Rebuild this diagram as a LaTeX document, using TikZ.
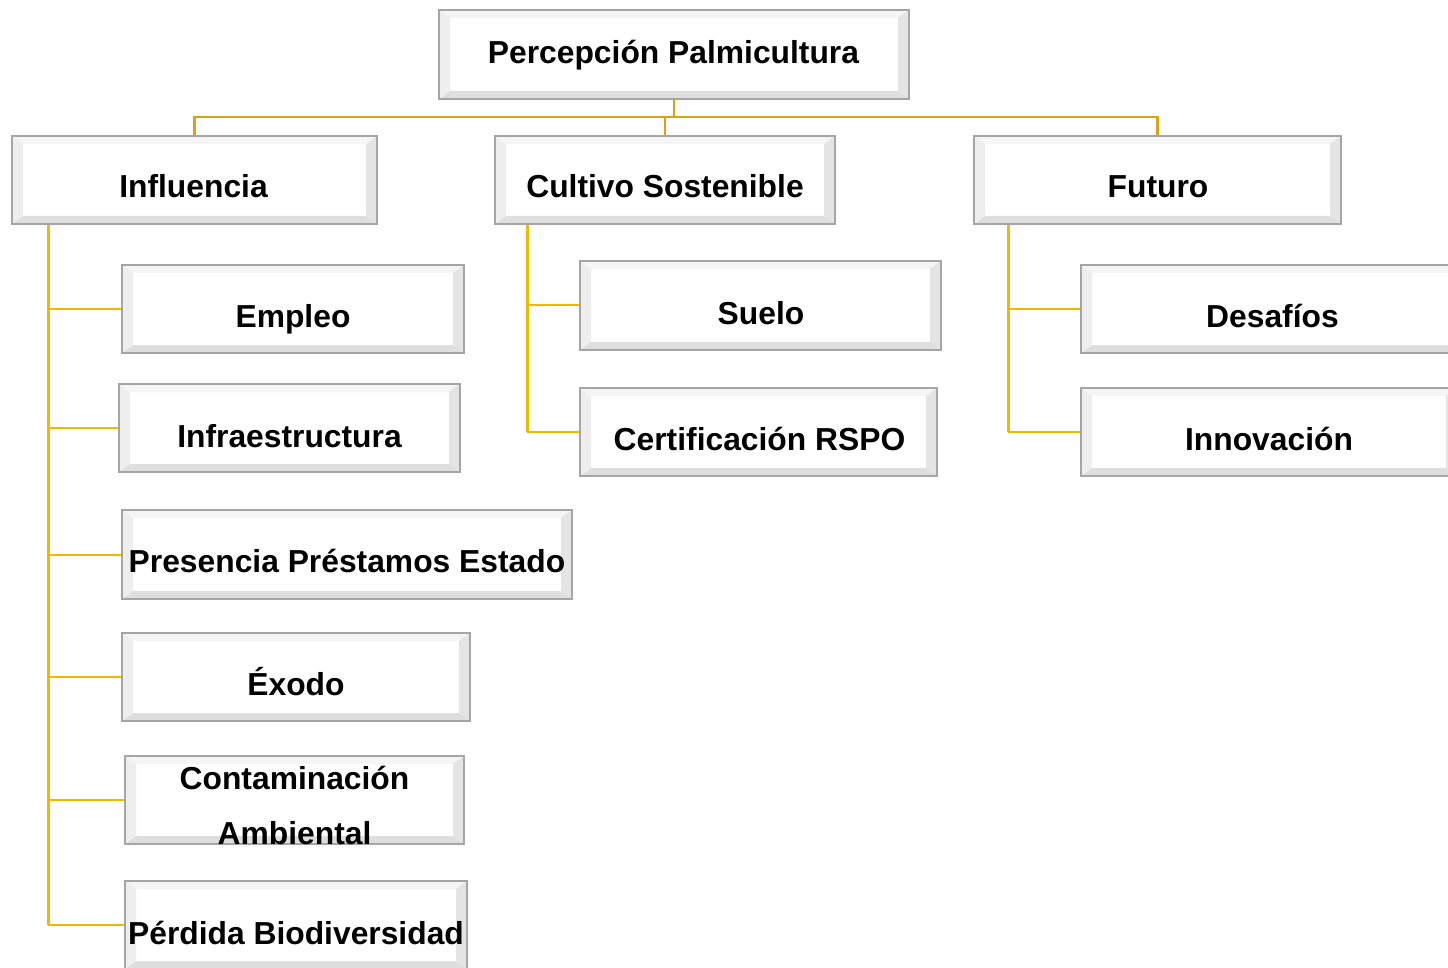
\documentclass[tikz,border=0pt]{standalone}
\usepackage{fontspec}
\setmainfont{Liberation Sans}
\definecolor{topline}{RGB}{214,164,22}
\definecolor{branch}{RGB}{242,184,0}
\definecolor{bordergray}{RGB}{165,165,165}
\def\pb{path picture bounding box}
\tikzset{
  bev/.style={draw=bordergray, line width=1.2pt, fill=white, inner sep=0pt,
    path picture={
      \fill[gray!8] (\pb.north west) -- (\pb.north east) -- ([xshift=-11pt,yshift=-8pt]\pb.north east) -- ([xshift=11pt,yshift=-8pt]\pb.north west) -- cycle;
      \fill[gray!26] (\pb.south west) -- (\pb.south east) -- ([xshift=-11pt,yshift=8pt]\pb.south east) -- ([xshift=11pt,yshift=8pt]\pb.south west) -- cycle;
      \fill[gray!13] (\pb.north west) -- ([xshift=11pt,yshift=-8pt]\pb.north west) -- ([xshift=11pt,yshift=8pt]\pb.south west) -- (\pb.south west) -- cycle;
      \fill[gray!21] (\pb.north east) -- ([xshift=-11pt,yshift=-8pt]\pb.north east) -- ([xshift=-11pt,yshift=8pt]\pb.south east) -- (\pb.south east) -- cycle;
    }},
  lbl/.style={anchor=base, font=\fontsize{31.8}{55}\selectfont\bfseries, inner sep=0pt, align=center},
  topc/.style={draw=topline, line width=2.8pt},
  brv/.style={draw=branch, line width=3pt},
  brh/.style={draw=branch, line width=2pt},
}
\begin{document}
\begin{tikzpicture}[x=1pt,y=-1pt]
\useasboundingbox (0,0) rectangle (1448,968);
\clip (0,0) rectangle (1448,968);

\coordinate (hub) at (674,117);

% boxes
\node[bev, minimum width=470pt, minimum height=89pt] (root) at (674,54.5) {};
\node[bev, minimum width=365pt, minimum height=88pt] (infl) at (194.5,180) {};
\node[bev, minimum width=340pt, minimum height=88pt] (cult) at (665,180) {};
\node[bev, minimum width=367pt, minimum height=88pt] (fut) at (1157.5,180) {};

\node[bev, minimum width=342pt, minimum height=88pt] (emp) at (293,309) {};
\node[bev, minimum width=341pt, minimum height=88pt] (infra) at (289.5,428) {};
\node[bev, minimum width=450pt, minimum height=89pt] (pres) at (347,554.5) {};
\node[bev, minimum width=348pt, minimum height=88pt] (exo) at (296,677) {};
\node[bev, minimum width=339pt, minimum height=88pt] (cont) at (294.5,800) {};
\node[bev, minimum width=342pt, minimum height=88pt] (perd) at (296,925) {};

\node[bev, minimum width=361pt, minimum height=89pt] (suelo) at (760.5,305.5) {};
\node[bev, minimum width=357pt, minimum height=88pt] (cert) at (758.5,432) {};

\node[bev, minimum width=383pt, minimum height=88pt] (desa) at (1272.5,309) {};
\node[bev, minimum width=376pt, minimum height=88pt] (inno) at (1269,432) {};

% top-level connectors
\draw[topc] (root.south) -- (hub);
\draw[topc] (infl.north) |- (fut.north |- hub) -- (fut.north);
\draw[topc] (hub -| cult.north) -- (cult.north);

% Influencia branch
\coordinate (ispine) at ([xshift=37pt]infl.south west);
\draw[brv] (ispine) -- (ispine |- perd.west);
\foreach \n in {emp,infra,pres,exo,cont,perd}
  \draw[brh] (ispine |- \n.west) -- (\n.west);

% Cultivo branch
\coordinate (cspine) at ([xshift=33pt]cult.south west);
\draw[brv] (cspine) -- (cspine |- cert.west);
\foreach \n in {suelo,cert}
  \draw[brh] (cspine |- \n.west) -- (\n.west);

% Futuro branch
\coordinate (fspine) at ([xshift=35pt]fut.south west);
\draw[brv] (fspine) -- (fspine |- inno.west);
\foreach \n in {desa,inno}
  \draw[brh] (fspine |- \n.west) -- (\n.west);

% labels
\node[lbl] (t-root) at (673.5,64) {Percepción Palmicultura};
\node[lbl] (t-infl) at (193.5,198) {Influencia};
\node[lbl] (t-cult) at (665,198) {Cultivo Sostenible};
\node[lbl] (t-fut) at (1158,198) {Futuro};
\node[lbl] (t-emp) at (293,327) {Empleo};
\node[lbl] (t-infra) at (289.5,447) {Infraestructura};
\node[lbl] (t-pres) at (347,572) {Presencia Préstamos Estado};
\node[lbl] (t-exo) at (296,695) {Éxodo};
\node[lbl] (t-cont) at (294.5,844) {Contaminación\\Ambiental};
\node[lbl] (t-perd) at (296,944) {Pérdida Biodiversidad};
\node[lbl] (t-suelo) at (761,324) {Suelo};
\node[lbl] (t-cert) at (759.5,450) {Certificación RSPO};
\node[lbl] (t-desa) at (1272.5,327) {Desafíos};
\node[lbl] (t-inno) at (1269,450) {Innovación};
\end{tikzpicture}
\end{document}
